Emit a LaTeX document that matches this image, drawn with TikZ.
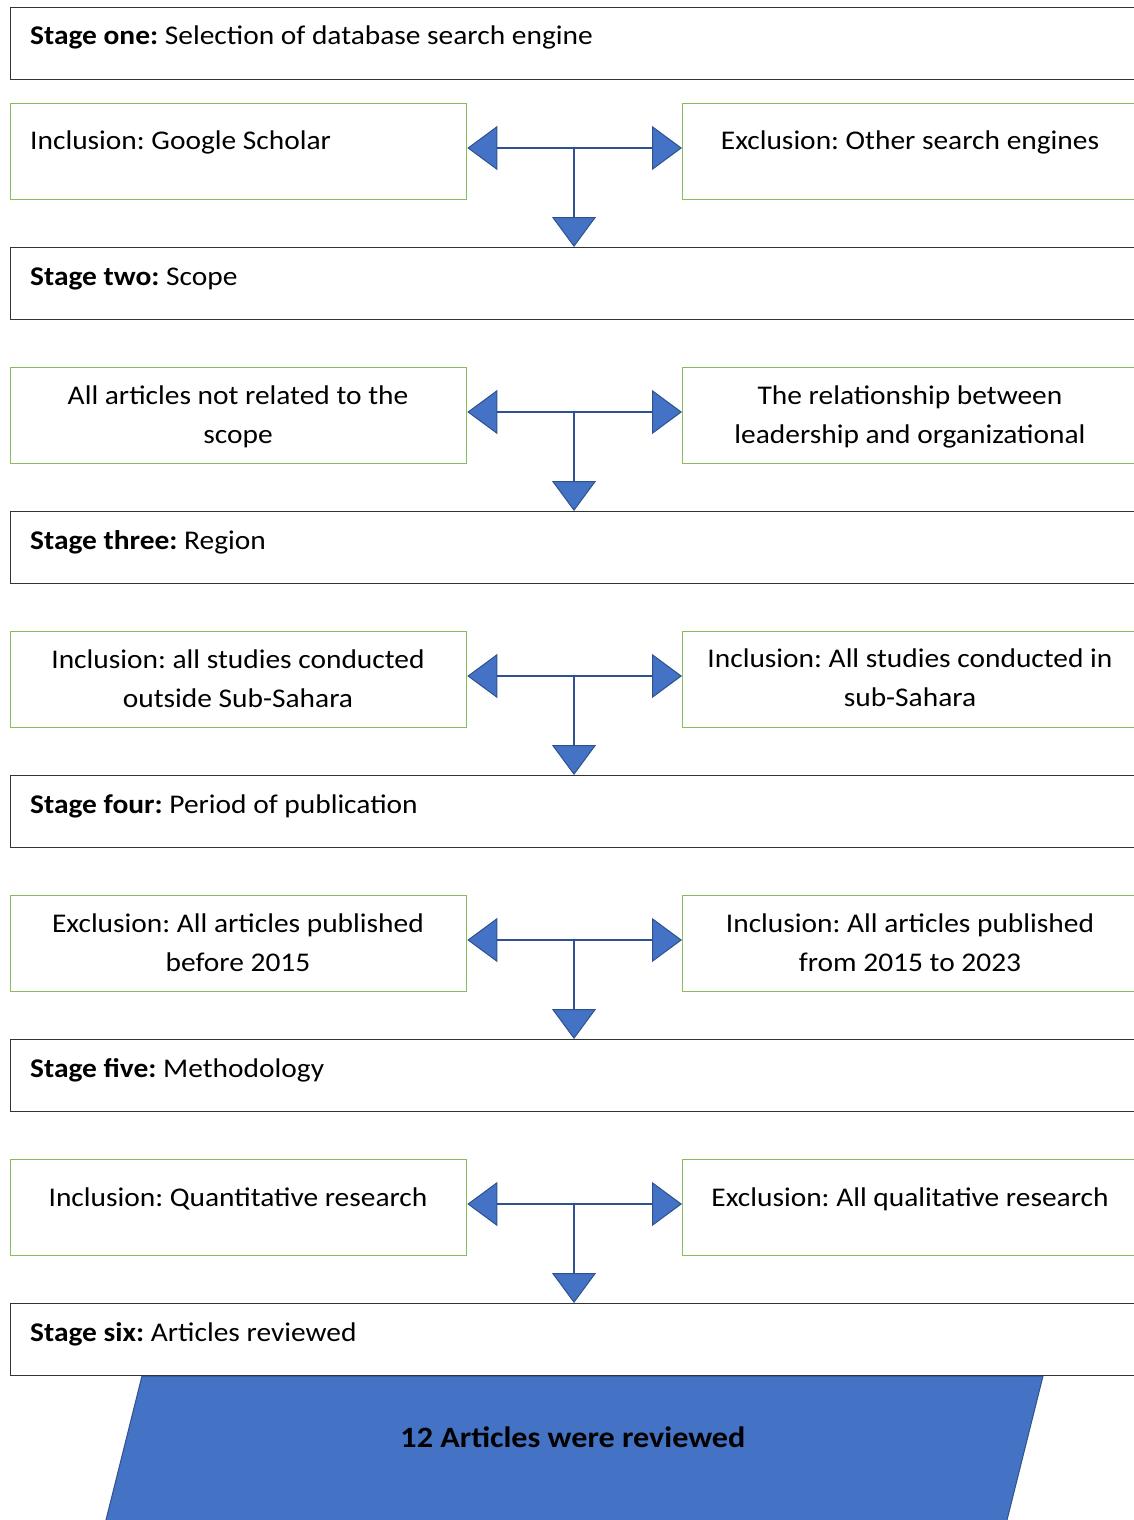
\documentclass[tikz,border=0pt]{standalone}
\usepackage{fontspec}
\setmainfont[FakeStretch=1.09]{Carlito}
\usetikzlibrary{arrows.meta}
\definecolor{blueF}{HTML}{4472C4}
\definecolor{blueD}{HTML}{2F528F}
\definecolor{grn}{HTML}{86BE5E}
\definecolor{stg}{HTML}{333333}
\frenchspacing
\begin{document}
\begin{tikzpicture}[x=1pt,y=-1pt,
  stagebox/.style={draw=stg,line width=1.4pt,minimum width=1128pt,minimum height=72pt,anchor=north west,inner sep=0pt},
  critbox/.style={draw=grn,line width=1.3pt,minimum width=456pt,minimum height=96pt,anchor=north west,inner sep=0pt},
  txt/.style={font=\fontsize{27pt}{38.5pt}\selectfont,inner sep=0pt,anchor=base,align=center},
  ltxt/.style={txt,anchor=base west,align=left},
  arr/.style={draw=blueD,line width=2pt,-{Triangle[length=30pt,width=44pt,fill=blueF,line width=1pt]}},
  outbox/.style={fill=blueF,draw=blueD,line width=1pt}
]
\useasboundingbox (0,0) rectangle (1134,1520);
\clip (0,0) rectangle (1134,1520);
% final parallelogram
\path[outbox] (142,1376) -- (1043,1376) -- (998,1556) -- (97,1556) -- cycle;
\node[txt,font=\fontsize{29.5pt}{34pt}\selectfont\bfseries] (res) at (573,1447) {12 Articles were reviewed};
% stage boxes
\node[stagebox] (S1) at (10,7) {};
\foreach \k in {2,...,6} {
  \node[stagebox] (S\k) at (10,{247+264*(\k-2)}) {};
}
% criteria boxes and junctions
\foreach \i in {1,...,5} {
  \node[critbox] (L\i) at (10,{103+264*(\i-1)}) {};
  \node[critbox] (R\i) at (682,{103+264*(\i-1)}) {};
  \coordinate (J\i) at (574,{148+264*(\i-1)});
}
% connectors
\foreach \i [evaluate=\i as \n using int(\i+1)] in {1,...,5} {
  \draw[arr] (J\i) -- (J\i -| L\i.east);
  \draw[arr] (J\i) -- (J\i -| R\i.west);
  \draw[arr] (J\i) -- (J\i |- S\n.north);
}
% stage texts
\node[ltxt] (t1) at (30,45) {\textbf{Stage one:} Selection of database search engine};
\node[ltxt] (t2) at (30,285) {\textbf{Stage two:} Scope};
\node[ltxt] (t3) at (30,549) {\textbf{Stage three:} Region};
\node[ltxt] (t4) at (30,813) {\textbf{Stage four:} Period of publication};
\node[ltxt] (t5) at (30,1077) {\textbf{Stage five:} Methodology};
\node[ltxt] (t6) at (30,1341) {\textbf{Stage six:} Articles reviewed};
% criteria texts
\node[ltxt] (l1) at (30,149) {Inclusion: Google Scholar};
\node[txt] (r1) at (910,149) {Exclusion: Other search engines};
\node[txt] (l2) at (238,443) {All articles not related to the\\scope};
\node[txt] (r2) at (910,443) {The relationship between\\leadership and organizational};
\node[txt] (l3) at (238,707) {Inclusion: all studies conducted\\outside Sub-Sahara};
\node[txt] (r3) at (910,706) {Inclusion: All studies conducted in\\sub-Sahara};
\node[txt] (l4) at (238,971) {Exclusion: All articles published\\before 2015};
\node[txt] (r4) at (910,971) {Inclusion: All articles published\\from 2015 to 2023};
\node[txt] (l5) at (238,1206) {Inclusion: Quantitative research};
\node[txt] (r5) at (910,1206) {Exclusion: All qualitative research};
\end{tikzpicture}
\end{document}
